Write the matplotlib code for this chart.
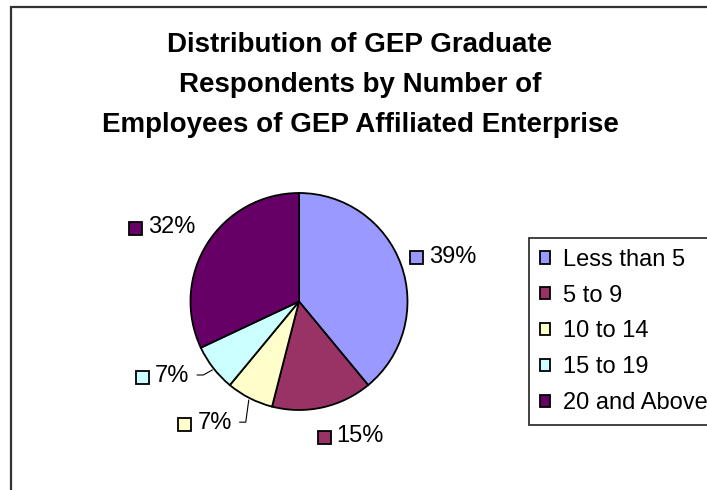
import matplotlib
matplotlib.use("Agg")
import matplotlib.pyplot as plt
from matplotlib.patches import Rectangle
import numpy as np

plt.rcParams["font.family"] = ["Liberation Sans", "DejaVu Sans"]

categories = ["Less than 5", "5 to 9", "10 to 14", "15 to 19", "20 and Above"]
shares = [39, 15, 7, 7, 32]
colors = ["#9999FF", "#993366", "#FFFFCC", "#CCFFFF", "#660066"]
title_lines = ["Distribution of GEP Graduate",
               "Respondents by Number of",
               "Employees of GEP Affiliated Enterprise"]

W, H = 707, 490
fig = plt.figure(figsize=(W / 100, H / 100), dpi=100)
ax = fig.add_axes([0, 0, 1, 1])


def Y(y):
    """Convert a top-down pixel row into the axes' bottom-up coordinate."""
    return H - y


cx, cy, r = 299, Y(301.5), 108.5
wedges, _ = ax.pie(shares, colors=colors, startangle=90, counterclock=False,
                   center=(cx, cy), radius=r,
                   wedgeprops=dict(edgecolor="black", linewidth=1.3))
ax.set_xlim(0, W)
ax.set_ylim(0, H)
ax.set_aspect("auto")
ax.axis("off")

# chart-area frame; its right and bottom sides run past the canvas
ax.add_patch(Rectangle((11, Y(H + 20)), W + 20, H + 20 - 7, fill=False,
                       edgecolor="#333333", lw=1.6, zorder=0))

for i, line in enumerate(title_lines):
    ax.text(360, Y(52 + 40 * i), line, ha="center", va="baseline",
            fontsize=20, fontweight="bold")

# data labels: nudge (px, right/down) from the wedge's rim at its mid angle
label_nudge = [(9, -8), (-5, 29), (-18, 25), (-24, 8), (-12, -16)]
with_leader = [False, False, True, True, False]
box = 13
gap = 6

fig.canvas.draw()
renderer = fig.canvas.get_renderer()
total = float(sum(shares))
start = 90.0
for i, (val, col) in enumerate(zip(shares, colors)):
    span = 360.0 * val / total
    mid = np.deg2rad(start - span / 2)
    start -= span
    ex, ey = cx + r * np.cos(mid), cy + r * np.sin(mid)
    nx, ny = label_nudge[i]
    lx, ly = ex + nx, ey - ny
    t = ax.text(0, ly, f"{val}%", fontsize=17, va="center", ha="left")
    tw = t.get_window_extent(renderer).width
    if np.cos(mid) >= 0:
        left = lx
        right = lx + box + gap + tw
    else:
        right = lx
        left = lx - tw - gap - box
    ax.add_patch(Rectangle((left, ly - box / 2 - 1), box, box, facecolor=col,
                           edgecolor="black", lw=1.3))
    t.set_x(left + box + gap)
    if with_leader[i]:
        ax.plot([ex - 1, right + 14, right + 8], [ey - 2, ly + 1, ly + 1],
                color="black", lw=0.8)

handles = [Rectangle((0, 0), 1, 1, facecolor=c, edgecolor="black", lw=1.3)
           for c in colors]
leg = fig.legend(handles, categories, loc="upper left",
                 bbox_to_anchor=(529 / W, 1 - 238 / H), fontsize=17,
                 frameon=True, fancybox=False, framealpha=1,
                 handlelength=0.45, handleheight=0.45, handletextpad=0.55,
                 labelspacing=0.59, borderpad=0.45, borderaxespad=0)
leg.get_frame().set_edgecolor("#333333")
leg.get_frame().set_linewidth(1.3)

fig.savefig("out.png", dpi=100)
